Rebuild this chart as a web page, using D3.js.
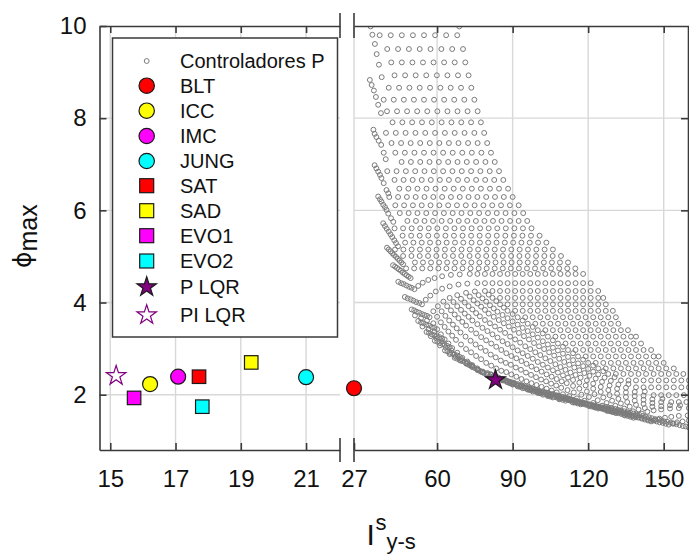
<!DOCTYPE html>
<html><head><meta charset="utf-8">
<script src="https://cdn.jsdelivr.net/npm/d3@7"></script>
<style>
body{margin:0;background:#fff}
svg{display:block}
text{font-family:"Liberation Sans",Arial,Helvetica,sans-serif;fill:#111}
</style>
</head><body>
<svg id="c" width="689" height="555"></svg>
<script>
// ---------------- DATA ----------------
const yTicks = [2, 4, 6, 8, 10];
const gridY = [2, 4, 6, 8];
const xTicksLeft = [15, 17, 19, 21];
const xTicksRight = [27, 60, 90, 120, 150];

const methods   = ["BLT", "ICC", "IMC", "JUNG", "SAT", "SAD", "EVO1", "EVO2", "P LQR", "PI LQR"];
const methodI   = [27.0, 16.22, 17.08, 21.0, 17.72, 19.32, 15.73, 17.82, 83.2, 15.18];
const methodPhi = [2.14, 2.23, 2.39, 2.38, 2.39, 2.70, 1.93, 1.74, 2.32, 2.41];
const cloudName = "Controladores P";

// P-controller cloud, upper part: rows of [phi, [I values]]
const pGridRows = [
 [9.80,[37.2,41.6,46.0,50.4,54.8,59.2,63.6,68.0]],
 [9.50,[40.2,44.5,48.8,53.1,57.4,61.7,66.0,70.3]],
 [9.21,[41.8,46.0,50.2,54.4,58.6,62.8,67.0,71.2]],
 [8.93,[43.1,47.3,51.5,55.7,59.9,64.1,68.3,72.5]],
 [8.66,[40.8,44.9,49.0,53.1,57.2,61.3,65.4,69.5,73.6]],
 [8.40,[38.8,42.8,46.8,50.8,54.8,58.8,62.8,66.8,70.8,74.8]],
 [8.15,[40.1,44.1,48.1,52.1,56.1,60.1,64.1,68.1,72.1,76.1]],
 [7.91,[42.3,46.2,50.1,54.0,57.9,61.8,65.7,69.6,73.5,77.4]],
 [7.68,[39.7,43.6,47.5,51.4,55.3,59.2,63.1,67.0,70.9,74.8,78.7]],
 [7.46,[41.9,45.7,49.5,53.3,57.1,60.9,64.7,68.5,72.3,76.1,79.9]],
 [7.25,[43.4,47.2,51.0,54.8,58.6,62.4,66.2,70.0,73.8,77.6,81.4]],
 [7.05,[45.9,49.6,53.3,57.0,60.7,64.4,68.1,71.8,75.5,79.2,82.9]],
 [6.85,[40.2,43.9,47.6,51.3,55.0,58.7,62.4,66.1,69.8,73.5,77.2,80.9,84.6]],
 [6.66,[43.1,46.7,50.3,53.9,57.5,61.1,64.7,68.3,71.9,75.5,79.1,82.7,86.3]],
 [6.47,[45.0,48.6,52.2,55.8,59.4,63.0,66.6,70.2,73.8,77.4,81.0,84.6,88.2]],
 [6.29,[41.0,44.5,48.0,51.5,55.0,58.5,62.0,65.5,69.0,72.5,76.0,79.5,83.0,86.5,90.0]],
 [6.11,[43.4,46.9,50.4,53.9,57.4,60.9,64.4,67.9,71.4,74.9,78.4,81.9,85.4,88.9,92.4]],
 [5.94,[45.2,48.7,52.2,55.7,59.2,62.7,66.2,69.7,73.2,76.7,80.2,83.7,87.2,90.7,94.2]],
 [5.77,[48.2,51.6,55.0,58.4,61.8,65.2,68.6,72.0,75.4,78.8,82.2,85.6,89.0,92.4,95.8]],
 [5.61,[43.1,46.5,49.9,53.3,56.7,60.1,63.5,66.9,70.3,73.7,77.1,80.5,83.9,87.3,90.7,94.1,97.5]],
 [5.45,[46.3,49.7,53.1,56.5,59.9,63.3,66.7,70.1,73.5,76.9,80.3,83.7,87.1,90.5,93.9,97.3,100.7]],
 [5.30,[47.3,50.6,53.9,57.2,60.5,63.8,67.1,70.4,73.7,77.0,80.3,83.6,86.9,90.2,93.5,96.8,100.1,103.4]],
 [5.15,[43.3,46.6,49.9,53.2,56.5,59.8,63.1,66.4,69.7,73.0,76.3,79.6,82.9,86.2,89.5,92.8,96.1,99.4,102.7,106.0]],
 [5.01,[46.5,49.8,53.1,56.4,59.7,63.0,66.3,69.6,72.9,76.2,79.5,82.8,86.1,89.4,92.7,96.0,99.3,102.6,105.9,109.2]],
 [4.87,[51.2,54.4,57.6,60.8,64.0,67.2,70.4,73.6,76.8,80.0,83.2,86.4,89.6,92.8,96.0,99.2,102.4,105.6,108.8,112.0]],
 [4.74,[47.7,50.9,54.1,57.3,60.5,63.7,66.9,70.1,73.3,76.5,79.7,82.9,86.1,89.3,92.5,95.7,98.9,102.1,105.3,108.5,111.7,114.9]]
];

// P-controller cloud, left-edge streaks: [I, phi]
const pEdge = [
 [33.6,9.99],[34.3,9.81],[35.3,9.61],[36.0,9.39],[36.9,9.16],[38.0,8.89],[68.8,9.99],
 [33.3,8.83],[34.0,8.72],[34.9,8.60],[35.7,8.46],[36.6,8.29],[37.7,8.11],
 [34.7,7.75],[35.2,7.66],[35.9,7.59],[36.8,7.51],[37.8,7.42],[38.8,7.25],[39.6,7.11],
 [35.2,6.98],[35.9,6.91],[36.6,6.84],[37.3,6.77],[37.9,6.70],[38.8,6.59],[39.9,6.44],[40.6,6.37],
 [36.6,6.30],[37.3,6.24],[37.9,6.19],[38.6,6.12],[39.3,6.07],[39.9,6.01],[40.6,5.93],[41.7,5.83],[42.6,5.75],
 [38.6,5.72],[39.3,5.66],[40.0,5.60],[40.8,5.54],[41.5,5.48],[42.2,5.42],[43.0,5.35],[43.7,5.29],[44.5,5.22],
 [40.1,5.19],[40.8,5.15],[41.5,5.11],[42.2,5.07],[42.9,5.03],[43.7,4.99],[44.4,4.95],[45.1,4.91],[45.8,4.87],[46.5,4.83],
 [42.5,4.81],[43.3,4.78],[44.1,4.75],[44.8,4.72],[45.6,4.69],[46.4,4.65],[47.2,4.62],[47.9,4.59],[48.7,4.56],[49.5,4.53]
];

// P-controller cloud, lower arcs (each arc: list of [I, phi])
const pArcs = [
 [[44.6,4.45],[45.7,4.42],[46.7,4.40],[47.8,4.37],[48.9,4.34],[49.9,4.32],[51.0,4.29],[52.5,4.36],[54.3,4.43],[56.5,4.49],[59.0,4.53],[62.0,4.57],[65.5,4.60],[69.0,4.61],[73.0,4.62],[76,4.62],[79,4.62],[82,4.62],[85,4.62],[88,4.62],[91,4.62],[94,4.62],[97,4.62],[100,4.62],[103,4.62],[106,4.62],[109,4.62],[112,4.62],[115,4.62],[118,4.62]],
 [[47.2,4.12],[48.3,4.09],[49.5,4.07],[50.6,4.04],[51.7,4.01],[52.9,3.99],[54.0,3.96],[55.5,4.06],[57.3,4.15],[59.5,4.24],[62.0,4.30],[65.0,4.35],[68.5,4.39],[72.0,4.41],[76.0,4.42],[79,4.42],[82,4.42],[85,4.42],[88,4.42],[91,4.42],[94,4.42],[97,4.42],[100,4.42],[103,4.42],[106,4.42],[109,4.42],[112,4.42],[115,4.42],[118,4.42],[121,4.42]],
 [[49.9,3.85],[50.9,3.83],[51.9,3.80],[52.9,3.78],[54.0,3.75],[55.0,3.73],[56.0,3.71],[57.0,3.68],[58.5,3.81],[60.3,3.92],[62.5,4.02],[65.0,4.10],[68.0,4.16],[71.5,4.21],[75.0,4.24],[79.0,4.25],[82,4.25],[85,4.25],[88,4.25],[91,4.25],[94,4.25],[97,4.25],[100,4.25],[103,4.25],[106,4.25],[109,4.25],[112,4.25],[115,4.25],[118,4.25],[121,4.25],[124,4.25]],
 [[52.5,3.60],[53.6,3.57],[54.6,3.55],[55.7,3.52],[56.8,3.50],[57.9,3.47],[58.9,3.45],[60.0,3.42],[61.5,3.57],[63.3,3.71],[65.5,3.83],[68.0,3.92],[71.0,4.00],[74.5,4.05],[78.0,4.09],[82.0,4.10],[85,4.10],[88,4.10],[91,4.10],[94,4.10],[97,4.10],[100,4.10],[103,4.10],[106,4.10],[109,4.10],[112,4.10],[115,4.10],[118,4.10],[121,4.10],[124,4.10],[126,4.10]],
 [[55.8,3.36],[56.8,3.34],[57.9,3.31],[58.9,3.29],[59.9,3.27],[60.9,3.25],[62.0,3.22],[63.0,3.20],[64.5,3.37],[66.3,3.52],[68.5,3.66],[71.0,3.76],[74.0,3.85],[77.5,3.91],[81.0,3.94],[85.0,3.96],[88,3.96],[91,3.96],[94,3.96],[97,3.96],[100,3.96],[103,3.96],[106,3.96],[109,3.96],[112,3.96],[115,3.96],[118,3.96],[121,3.96],[124,3.96],[127,3.96]],
 [[59.1,3.17],[60.1,3.15],[61.1,3.12],[62.1,3.10],[63.0,3.08],[64.0,3.06],[65.0,3.03],[66.0,3.01],[67.5,3.19],[69.3,3.35],[71.5,3.50],[74.0,3.61],[77.0,3.70],[80.5,3.76],[84.0,3.80],[88.0,3.82],[91,3.82],[94,3.82],[97,3.82],[100,3.82],[103,3.82],[106,3.82],[109,3.82],[112,3.82],[115,3.82],[118,3.82],[121,3.82],[124,3.82],[127,3.82],[129.8,3.82]],
 [[63.1,2.96],[64.1,2.94],[65.1,2.91],[66.1,2.89],[67.0,2.87],[68.0,2.85],[69.0,2.82],[70.0,2.80],[71.5,2.99],[73.3,3.17],[75.5,3.33],[78.0,3.45],[81.0,3.55],[84.5,3.62],[88.0,3.66],[92.0,3.68],[95,3.68],[98,3.68],[101,3.68],[104,3.68],[107,3.68],[110,3.68],[113,3.68],[116,3.68],[119,3.68],[122,3.68],[125,3.68],[128,3.68],[131,3.68]],
 [[67.0,2.80],[68.0,2.78],[69.0,2.75],[70.0,2.73],[71.0,2.71],[72.0,2.69],[73.0,2.66],[74.0,2.64],[75.5,2.84],[77.3,3.02],[79.5,3.18],[82.0,3.31],[85.0,3.41],[88.5,3.48],[92.0,3.52],[96.0,3.54],[99,3.54],[102,3.54],[105,3.54],[108,3.54],[111,3.54],[114,3.54],[117,3.54],[120,3.54],[123,3.54],[126,3.54],[129,3.54],[132,3.54]],
 [[71.7,2.67],[72.8,2.64],[73.8,2.61],[74.9,2.58],[75.9,2.55],[77.0,2.52],[78.0,2.49],[79.5,2.69],[81.3,2.87],[83.5,3.04],[86.0,3.16],[89.0,3.26],[92.5,3.34],[96.0,3.38],[100.0,3.40],[103,3.40],[106,3.40],[109,3.40],[112,3.40],[115,3.40],[118,3.40],[121,3.40],[124,3.40],[127,3.40],[130,3.40],[133,3.40],[135.8,3.40]],
 [[76.3,2.53],[77.4,2.50],[78.6,2.47],[79.7,2.43],[80.9,2.40],[82.0,2.37],[83.5,2.57],[85.3,2.74],[87.5,2.90],[90.0,3.03],[93.0,3.13],[96.5,3.20],[100.0,3.24],[104.0,3.26],[107,3.26],[110,3.26],[113,3.26],[116,3.26],[119,3.26],[122,3.26],[125,3.26],[128,3.26],[131,3.26],[134,3.26],[137,3.26],[139,3.26]],
 [[80.0,2.47],[81.2,2.44],[82.4,2.41],[83.6,2.37],[84.8,2.34],[86.0,2.31],[87.5,2.49],[89.3,2.65],[91.5,2.79],[94.0,2.90],[97.0,2.99],[100.5,3.05],[104.0,3.09],[108.0,3.11],[111,3.11],[114,3.11],[117,3.11],[120,3.11],[123,3.11],[126,3.11],[129,3.11],[132,3.11],[135,3.11],[138,3.11],[141,3.11]],
 [[83.0,2.40],[84.2,2.37],[85.3,2.34],[86.5,2.31],[87.7,2.28],[88.8,2.25],[90.0,2.22],[91.5,2.39],[93.3,2.54],[95.5,2.67],[98.0,2.78],[101.0,2.86],[104.5,2.92],[108.0,2.96],[112.0,2.97],[115,2.97],[118,2.97],[121,2.97],[124,2.97],[127,2.97],[130,2.97],[133,2.97],[136,2.97],[139,2.97],[142,2.97],[145,2.97]],
 [[86.0,2.34],[87.1,2.31],[88.3,2.29],[89.4,2.26],[90.6,2.23],[91.7,2.20],[92.9,2.17],[94.0,2.14],[95.5,2.29],[97.3,2.43],[99.5,2.55],[102.0,2.65],[105.0,2.73],[108.5,2.78],[112.0,2.82],[116.0,2.83],[119,2.83],[122,2.83],[125,2.83],[128,2.83],[131,2.83],[134,2.83],[137,2.83],[140,2.83],[143,2.83],[146,2.83],[148,2.83]],
 [[89.0,2.28],[90.1,2.25],[91.3,2.23],[92.4,2.20],[93.5,2.18],[94.6,2.15],[95.8,2.12],[96.9,2.10],[98.0,2.07],[99.5,2.21],[101.3,2.33],[103.5,2.44],[106.0,2.53],[109.0,2.60],[112.5,2.65],[116.0,2.68],[120.0,2.69],[123,2.69],[126,2.69],[129,2.69],[132,2.69],[135,2.69],[138,2.69],[141,2.69],[144,2.69],[147,2.69],[150,2.69]],
 [[92.0,2.23],[93.1,2.20],[94.2,2.18],[95.3,2.15],[96.4,2.13],[97.6,2.10],[98.7,2.08],[99.8,2.05],[100.9,2.03],[102.0,2.00],[103.5,2.13],[105.3,2.24],[107.5,2.34],[110.0,2.42],[113.0,2.48],[116.5,2.53],[120.0,2.56],[124.0,2.57],[127,2.57],[130,2.57],[133,2.57],[136,2.57],[139,2.57],[142,2.57],[145,2.57],[148,2.57],[151,2.57],[154,2.57]],
 [[95.0,2.18],[96.1,2.16],[97.2,2.13],[98.3,2.11],[99.4,2.08],[100.5,2.06],[101.6,2.04],[102.7,2.01],[103.8,1.99],[104.9,1.96],[106.0,1.94],[107.5,2.05],[109.3,2.15],[111.5,2.25],[114.0,2.32],[117.0,2.37],[120.5,2.41],[124.0,2.44],[128.0,2.45],[131,2.45],[134,2.45],[137,2.45],[140,2.45],[143,2.45],[146,2.45],[149,2.45],[152,2.45],[155,2.45],[157.8,2.45]],
 [[98.0,2.13],[99.2,2.11],[100.4,2.08],[101.5,2.06],[102.7,2.04],[103.9,2.01],[105.1,1.99],[106.3,1.96],[107.5,1.94],[108.6,1.92],[109.8,1.89],[111.0,1.87],[112.5,1.97],[114.3,2.05],[116.5,2.13],[119.0,2.20],[122.0,2.24],[125.5,2.28],[129.0,2.30],[133.0,2.31],[136,2.31],[139,2.31],[142,2.31],[145,2.31],[148,2.31],[151,2.31],[154,2.31],[157,2.31],[160,2.31]],
 [[102.0,2.07],[103.2,2.05],[104.3,2.03],[105.5,2.01],[106.6,1.98],[107.8,1.96],[108.9,1.94],[110.1,1.92],[111.2,1.90],[112.4,1.88],[113.5,1.85],[114.7,1.83],[115.8,1.81],[117.0,1.79],[118.5,1.87],[120.3,1.95],[122.5,2.01],[125.0,2.06],[128.0,2.10],[131.5,2.13],[135.0,2.15],[139.0,2.16],[142,2.16],[145,2.16],[148,2.16],[151,2.16],[154,2.16],[157,2.16],[160,2.16]],
 [[106.0,2.01],[107.2,1.99],[108.4,1.97],[109.6,1.95],[110.8,1.93],[112.0,1.91],[113.2,1.89],[114.4,1.87],[115.6,1.84],[116.8,1.82],[118.0,1.80],[119.2,1.78],[120.4,1.76],[121.6,1.74],[122.8,1.72],[124.0,1.70],[125.5,1.76],[127.3,1.82],[129.5,1.87],[132.0,1.91],[135.0,1.95],[138.5,1.97],[142.0,1.98],[146.0,1.99],[149,1.99],[152,1.99],[155,1.99],[158,1.99]],
 [[110.0,1.95],[111.2,1.93],[112.3,1.91],[113.5,1.89],[114.7,1.87],[115.8,1.85],[117.0,1.83],[118.2,1.81],[119.3,1.80],[120.5,1.78],[121.7,1.76],[122.8,1.74],[124.0,1.72],[125.2,1.70],[126.3,1.68],[127.5,1.66],[128.7,1.64],[129.8,1.62],[131.0,1.60],[132.5,1.65],[134.3,1.70],[136.5,1.74],[139.0,1.78],[142.0,1.80],[145.5,1.82],[149.0,1.84],[153.0,1.84],[156,1.84],[159,1.84]],
 [[114.0,1.89],[115.2,1.87],[116.4,1.85],[117.6,1.83],[118.8,1.81],[120.0,1.79],[121.2,1.77],[122.4,1.75],[123.6,1.73],[124.8,1.71],[126.0,1.70],[127.2,1.68],[128.4,1.66],[129.6,1.64],[130.8,1.62],[132.0,1.60],[133.2,1.58],[134.4,1.56],[135.6,1.54],[136.8,1.52],[138.0,1.50],[139.5,1.55],[141.3,1.59],[143.5,1.63],[146.0,1.66],[149.0,1.68],[152.5,1.70],[156.0,1.71],[160.0,1.71]],
 [[118.0,1.83],[119.2,1.81],[120.5,1.79],[121.7,1.77],[122.9,1.76],[124.1,1.74],[125.4,1.72],[126.6,1.70],[127.8,1.68],[129.0,1.66],[130.3,1.64],[131.5,1.63],[132.7,1.61],[134.0,1.59],[135.2,1.57],[136.4,1.55],[137.6,1.53],[138.9,1.51],[140.1,1.50],[141.3,1.48],[142.5,1.46],[143.8,1.44],[145.0,1.42],[146.5,1.45],[148.3,1.48],[150.5,1.50],[153.0,1.52],[156.0,1.54],[159.5,1.55]],
 [[122.0,1.77],[123.2,1.75],[124.4,1.74],[125.6,1.72],[126.8,1.70],[128.0,1.69],[129.2,1.67],[130.4,1.65],[131.6,1.64],[132.8,1.62],[134.0,1.60],[135.2,1.59],[136.4,1.57],[137.6,1.55],[138.8,1.54],[140.0,1.52],[141.2,1.50],[142.4,1.49],[143.6,1.47],[144.8,1.45],[146.0,1.44],[147.2,1.42],[148.4,1.40],[149.6,1.39],[150.8,1.37],[152.0,1.35],[153.5,1.38],[155.3,1.40],[157.5,1.42],[160.0,1.44]],
 [[127.0,1.74],[128.2,1.72],[129.4,1.71],[130.7,1.69],[131.9,1.67],[133.1,1.66],[134.3,1.64],[135.6,1.62],[136.8,1.61],[138.0,1.59],[139.2,1.57],[140.4,1.56],[141.7,1.54],[142.9,1.52],[144.1,1.51],[145.3,1.49],[146.6,1.47],[147.8,1.46],[149.0,1.44],[150.2,1.42],[151.4,1.41],[152.7,1.39],[153.9,1.37],[155.1,1.36],[156.3,1.34],[157.6,1.32],[158.8,1.31],[160.0,1.29]]
];

// P-controller cloud, inner arcs between the ones above (near the front)
const pArcsInner = [
 [[51.2,3.72],[53.6,3.66],[56.0,3.61],[58.5,3.55],[60.0,3.69],[61.8,3.81],[64.0,3.92],[66.5,4.01],[69.5,4.08],[73.0,4.13],[76.5,4.16],[80.5,4.17]],
 [[54.2,3.48],[56.6,3.42],[59.0,3.37],[61.5,3.31],[63.0,3.47],[64.8,3.61],[67.0,3.74],[69.5,3.84],[72.5,3.92],[76.0,3.98],[79.5,4.02],[83.5,4.03]],
 [[57.5,3.27],[59.8,3.22],[62.2,3.16],[64.5,3.11],[66.0,3.28],[67.8,3.44],[70.0,3.58],[72.5,3.69],[75.5,3.77],[79.0,3.84],[82.5,3.87],[86.5,3.89]],
 [[61.1,3.07],[63.4,3.02],[65.7,2.96],[68.0,2.91],[69.5,3.09],[71.3,3.26],[73.5,3.41],[76.0,3.53],[79.0,3.62],[82.5,3.69],[86.0,3.73],[90.0,3.75]],
 [[65.0,2.88],[67.3,2.83],[69.7,2.77],[72.0,2.72],[73.5,2.92],[75.3,3.09],[77.5,3.25],[80.0,3.38],[83.0,3.48],[86.5,3.55],[90.0,3.59],[94.0,3.61]],
 [[69.4,2.74],[71.6,2.68],[73.8,2.63],[76.0,2.57],[77.5,2.77],[79.3,2.95],[81.5,3.11],[84.0,3.24],[87.0,3.34],[90.5,3.41],[94.0,3.45],[98.0,3.47]],
 [[74.0,2.60],[76.0,2.54],[78.0,2.49],[80.0,2.43],[81.5,2.63],[83.3,2.81],[85.5,2.97],[88.0,3.10],[91.0,3.20],[94.5,3.27],[98.0,3.31],[102.0,3.33]],
 [[78.2,2.50],[80.1,2.45],[82.1,2.39],[84.0,2.34],[85.5,2.52],[87.3,2.69],[89.5,2.84],[92.0,2.96],[95.0,3.05],[98.5,3.12],[102.0,3.16],[106.0,3.18]],
 [[81.5,2.44],[83.7,2.38],[85.8,2.33],[88.0,2.27],[89.5,2.44],[91.3,2.59],[93.5,2.73],[96.0,2.84],[99.0,2.92],[102.5,2.99],[106.0,3.02],[110.0,3.04]],
 [[84.5,2.37],[87.0,2.31],[89.5,2.24],[92.0,2.18],[93.5,2.34],[95.3,2.48],[97.5,2.61],[100.0,2.71],[103.0,2.79],[106.5,2.85],[110.0,2.89],[114.0,2.90]],
 [[87.5,2.31],[90.3,2.24],[93.2,2.18],[96.0,2.11],[97.5,2.25],[99.3,2.38],[101.5,2.50],[104.0,2.59],[107.0,2.66],[110.5,2.71],[114.0,2.75],[118.0,2.76]],
 [[90.5,2.26],[93.7,2.19],[96.8,2.11],[100.0,2.04],[101.5,2.17],[103.3,2.29],[105.5,2.39],[108.0,2.48],[111.0,2.54],[114.5,2.59],[118.0,2.62],[122.0,2.63]],
 [[93.5,2.21],[97.0,2.13],[100.5,2.05],[104.0,1.97],[105.5,2.09],[107.3,2.20],[109.5,2.29],[112.0,2.37],[115.0,2.43],[118.5,2.47],[122.0,2.50],[126.0,2.51]],
 [[96.5,2.16],[100.5,2.07],[104.5,1.99],[108.5,1.90],[110.0,2.01],[111.8,2.10],[114.0,2.19],[116.5,2.26],[119.5,2.31],[123.0,2.35],[126.5,2.37],[130.5,2.38]],
 [[100.0,2.10],[104.7,2.01],[109.3,1.92],[114.0,1.83],[115.5,1.92],[117.3,2.00],[119.5,2.07],[122.0,2.13],[125.0,2.17],[128.5,2.20],[132.0,2.22],[136.0,2.23]],
 [[104.0,2.04],[108.1,1.97],[112.3,1.89],[116.4,1.82],[120.5,1.75],[122.0,1.82],[123.8,1.88],[126.0,1.94],[128.5,1.99],[131.5,2.02],[135.0,2.05],[138.5,2.06],[142.5,2.07]],
 [[108.0,1.98],[112.9,1.90],[117.8,1.82],[122.6,1.73],[127.5,1.65],[129.0,1.71],[130.8,1.76],[133.0,1.81],[135.5,1.84],[138.5,1.87],[142.0,1.89],[145.5,1.90],[149.5,1.91]],
 [[112.0,1.92],[117.6,1.83],[123.3,1.74],[128.9,1.64],[134.5,1.55],[136.0,1.60],[137.8,1.64],[140.0,1.68],[142.5,1.71],[145.5,1.74],[149.0,1.75],[152.5,1.77],[156.5,1.77]]
];

// ---------------- STYLE ----------------
const markStyle = {
  "BLT":   {shape:"circle", fill:"#ff0000"},
  "ICC":   {shape:"circle", fill:"#ffff00"},
  "IMC":   {shape:"circle", fill:"#ff00ff"},
  "JUNG":  {shape:"circle", fill:"#00ffff"},
  "SAT":   {shape:"square", fill:"#ff0000"},
  "SAD":   {shape:"square", fill:"#ffff00"},
  "EVO1":  {shape:"square", fill:"#ff00ff"},
  "EVO2":  {shape:"square", fill:"#00ffff"},
  "P LQR": {shape:"star", fill:"#800080", stroke:"#1a1a1a"},
  "PI LQR":{shape:"star", fill:"none", stroke:"#800080"}
};
const axisColor = "#3a3a3a";
const gridColor = "#d8d8d8";
const cloudColor = "#7b7b7b";

// ---------------- SCALES ----------------
const svg = d3.select("#c");
const yS = d3.scaleLinear().domain([0.8, 10]).range([450, 26]);
const xL = d3.scaleLinear().domain([14.67, 22.04]).range([99.5, 340]);
const xR = d3.scaleLinear().domain([27, 159.85]).range([354, 688.5]);
const X = v => (v < 24 ? xL(v) : xR(v));

svg.append("rect").attr("width", 689).attr("height", 555).attr("fill", "#fff");

const defs = svg.append("defs");
defs.append("clipPath").attr("id", "clipR").append("rect")
  .attr("x", 354).attr("y", 26).attr("width", 334.5).attr("height", 424);

// ---------------- GRID ----------------
const grid = svg.append("g").attr("stroke", gridColor).attr("stroke-width", 1.4);
xTicksLeft.forEach(v => grid.append("line").attr("x1", xL(v)).attr("x2", xL(v)).attr("y1", 26).attr("y2", 450));
xTicksRight.forEach(v => grid.append("line").attr("x1", xR(v)).attr("x2", xR(v)).attr("y1", 26).attr("y2", 450));
gridY.forEach(v => {
  grid.append("line").attr("x1", 99.5).attr("x2", 340).attr("y1", yS(v)).attr("y2", yS(v));
  grid.append("line").attr("x1", 354).attr("x2", 688.5).attr("y1", yS(v)).attr("y2", yS(v));
});

// ---------------- CLOUD ----------------
const cloud = [];
pGridRows.forEach(([phi, xs]) => xs.forEach(x => cloud.push([x, phi])));
pEdge.forEach(p => cloud.push(p));
pArcs.forEach(a => a.forEach(p => cloud.push(p)));
pArcsInner.forEach(a => a.forEach(p => cloud.push(p)));

svg.append("g").attr("clip-path", "url(#clipR)")
  .selectAll("circle").data(cloud).join("circle")
  .attr("cx", d => xR(d[0])).attr("cy", d => yS(d[1])).attr("r", 2.45)
  .attr("fill", "none").attr("stroke", cloudColor).attr("stroke-width", 1.0);

// ---------------- AXES ----------------
function styleAxis(g, labels) {
  g.select(".domain").attr("stroke", axisColor).attr("stroke-width", 1.6);
  g.selectAll(".tick line").attr("stroke", axisColor).attr("stroke-width", 1.6);
  g.selectAll(".tick text").attr("font-size", 24).attr("fill", "#111")
    .attr("font-family", '"Liberation Sans", Arial, sans-serif');
  if (!labels) g.selectAll(".tick text").remove();
}
const bl = svg.append("g").attr("transform", "translate(0,450)")
  .call(d3.axisBottom(xL).tickValues(xTicksLeft).tickSize(-7).tickSizeOuter(0).tickPadding(20));
styleAxis(bl, true);
const br = svg.append("g").attr("transform", "translate(0,450)")
  .call(d3.axisBottom(xR).tickValues(xTicksRight).tickSize(-7).tickSizeOuter(0).tickPadding(20));
styleAxis(br, true);
const tl = svg.append("g").attr("transform", "translate(0,26)")
  .call(d3.axisTop(xL).tickValues(xTicksLeft).tickSize(-7).tickSizeOuter(0));
styleAxis(tl, false);
const tr = svg.append("g").attr("transform", "translate(0,26)")
  .call(d3.axisTop(xR).tickValues(xTicksRight.slice(1)).tickSize(-7).tickSizeOuter(0));
styleAxis(tr, false);
const la = svg.append("g").attr("transform", "translate(99.5,0)")
  .call(d3.axisLeft(yS).tickValues(yTicks).tickSize(-7).tickSizeOuter(0).tickPadding(13));
styleAxis(la, true);
const ra = svg.append("g").attr("transform", "translate(688,0)")
  .call(d3.axisRight(yS).tickValues(gridY).tickSize(-7).tickSizeOuter(0));
styleAxis(ra, false);

// axis break marks
const brk = svg.append("g").attr("stroke", axisColor).attr("stroke-width", 1.6);
[340, 354].forEach(x => {
  brk.append("line").attr("x1", x).attr("x2", x).attr("y1", 438).attr("y2", 462);
  brk.append("line").attr("x1", x).attr("x2", x).attr("y1", 13).attr("y2", 38);
});

// ---------------- SYMBOLS ----------------
const starPath = d3.symbol().type(d3.symbolStar).size(118)();
function drawMark(g, name, cx, cy, big) {
  const st = markStyle[name];
  if (st.shape === "circle") {
    g.append("circle").attr("cx", cx).attr("cy", cy).attr("r", big ? 7.7 : 7.5)
      .attr("fill", st.fill).attr("stroke", "#1a1a1a").attr("stroke-width", 1.2);
  } else if (st.shape === "square") {
    const s = big ? 14 : 13.5;
    g.append("rect").attr("x", cx - s / 2).attr("y", cy - s / 2).attr("width", s).attr("height", s)
      .attr("fill", st.fill).attr("stroke", "#1a1a1a").attr("stroke-width", 1.2);
  } else {
    g.append("path").attr("d", starPath).attr("transform", `translate(${cx},${cy})`)
      .attr("fill", st.fill).attr("stroke", st.stroke).attr("stroke-width", 1.2);
  }
}

// ---------------- LEGEND ----------------
const lg = svg.append("g");
lg.append("rect").attr("x", 112.5).attr("y", 38).attr("width", 225).attr("height", 299)
  .attr("fill", "#fff").attr("stroke", axisColor).attr("stroke-width", 1.5);
const legendRowsY = [61, 85.7, 110.7, 136, 161, 185.7, 210.7, 235.7, 261, 287, 315];
lg.append("circle").attr("cx", 146.7).attr("cy", legendRowsY[0]).attr("r", 2.45)
  .attr("fill", "none").attr("stroke", cloudColor).attr("stroke-width", 1.0);
lg.append("text").attr("x", 180).attr("y", legendRowsY[0] + 7).attr("font-size", 20).text(cloudName);
methods.forEach((m, i) => {
  const cy = legendRowsY[i + 1];
  drawMark(lg, m, 146.7, cy, true);
  lg.append("text").attr("x", 180).attr("y", cy + 7).attr("font-size", 20).text(m);
});

// ---------------- METHOD MARKERS ----------------
const mk = svg.append("g");
methods.forEach((m, i) => drawMark(mk, m, X(methodI[i]), yS(methodPhi[i]), false));

// ---------------- AXIS TITLES ----------------
const yt = svg.append("text").attr("transform", "translate(31,268) rotate(-90)").attr("font-size", 25);
yt.append("tspan").attr("font-family", '"DejaVu Sans", "Liberation Sans", sans-serif').text("\u03D5");
yt.append("tspan").attr("dy", 5.5).text("max");

const xt = svg.append("g");
xt.append("text").attr("x", 366.5).attr("y", 545).attr("font-size", 30).text("I");
xt.append("text").attr("x", 375.5).attr("y", 530).attr("font-size", 22).text("s");
xt.append("text").attr("x", 386.5).attr("y", 548.5).attr("font-size", 22).text("y-s");
</script>
</body></html>
